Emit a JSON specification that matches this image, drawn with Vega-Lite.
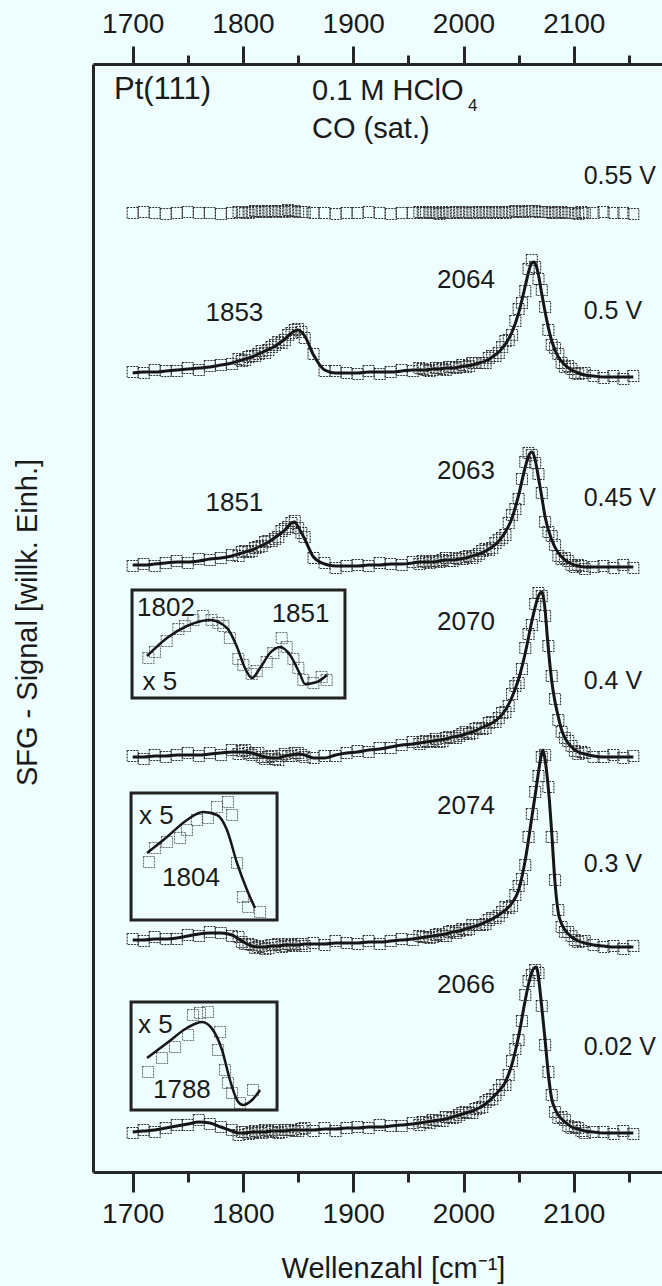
{
  "$schema": "https://vega.github.io/schema/vega-lite/v6.json",
  "width": 569,
  "height": 1108,
  "autosize": "none",
  "padding": {"left": 93, "top": 64, "right": 0, "bottom": 114},
  "background": "#eefdfd",
  "config": {"view": {"stroke": null}, "font": "Liberation Sans"},
  "datasets": {
    "box": [
      {"b": 1, "x": 1699.4, "x2": 1892.5, "y": 582, "y2": 474},
      {"b": 2, "x": 1698.5, "x2": 1830.9, "y": 379, "y2": 252},
      {"b": 3, "x": 1698.5, "x2": 1830.9, "y": 170, "y2": 62}
    ],
    "sp": [
      {"t":"0.55","x":1700,"m":959},{"t":"0.55","x":1710,"m":960},{"t":"0.55","x":1720,"m":959},{"t":"0.55","x":1730,"m":958},{"t":"0.55","x":1740,"m":959},{"t":"0.55","x":1750,"m":960},{"t":"0.55","x":1760,"m":959},{"t":"0.55","x":1770,"m":959},{"t":"0.55","x":1780,"m":958},{"t":"0.55","x":1790,"m":959},{"t":"0.55","x":1796,"m":960},{"t":"0.55","x":1802,"m":959},{"t":"0.55","x":1808,"m":960},{"t":"0.55","x":1814,"m":961},{"t":"0.55","x":1820,"m":960},{"t":"0.55","x":1826,"m":961},{"t":"0.55","x":1832,"m":961},{"t":"0.55","x":1838,"m":960},{"t":"0.55","x":1844,"m":961},{"t":"0.55","x":1850,"m":960},{"t":"0.55","x":1856,"m":960},{"t":"0.55","x":1864,"m":959},{"t":"0.55","x":1874,"m":959},{"t":"0.55","x":1884,"m":958},{"t":"0.55","x":1894,"m":959},{"t":"0.55","x":1904,"m":959},{"t":"0.55","x":1914,"m":960},{"t":"0.55","x":1924,"m":959},{"t":"0.55","x":1934,"m":958},{"t":"0.55","x":1944,"m":959},{"t":"0.55","x":1954,"m":959},{"t":"0.55","x":1960,"m":960},{"t":"0.55","x":1966,"m":959},{"t":"0.55","x":1972,"m":959},{"t":"0.55","x":1978,"m":958},{"t":"0.55","x":1984,"m":959},{"t":"0.55","x":1990,"m":959},{"t":"0.55","x":1996,"m":960},{"t":"0.55","x":2002,"m":959},{"t":"0.55","x":2008,"m":959},{"t":"0.55","x":2014,"m":960},{"t":"0.55","x":2020,"m":959},{"t":"0.55","x":2026,"m":960},{"t":"0.55","x":2032,"m":960},{"t":"0.55","x":2038,"m":959},{"t":"0.55","x":2044,"m":960},{"t":"0.55","x":2050,"m":961},{"t":"0.55","x":2056,"m":960},{"t":"0.55","x":2062,"m":961},{"t":"0.55","x":2068,"m":960},{"t":"0.55","x":2074,"m":960},{"t":"0.55","x":2080,"m":959},{"t":"0.55","x":2086,"m":960},{"t":"0.55","x":2092,"m":959},{"t":"0.55","x":2098,"m":959},{"t":"0.55","x":2104,"m":958},{"t":"0.55","x":2110,"m":959},{"t":"0.55","x":2118,"m":959},{"t":"0.55","x":2127,"m":960},{"t":"0.55","x":2136,"m":959},{"t":"0.55","x":2145,"m":959},{"t":"0.55","x":2154,"m":958},
      {"t":"0.55","x":1799,"m":960},{"t":"0.55","x":1805,"m":959},{"t":"0.55","x":1811,"m":961},{"t":"0.55","x":1817,"m":960},{"t":"0.55","x":1823,"m":961},{"t":"0.55","x":1829,"m":960},{"t":"0.55","x":1835,"m":961},{"t":"0.55","x":1841,"m":962},{"t":"0.55","x":1847,"m":961},{"t":"0.55","x":1853,"m":960},
      {"t":"0.55","x":1963,"m":959},{"t":"0.55","x":1969,"m":960},{"t":"0.55","x":1975,"m":959},{"t":"0.55","x":1981,"m":960},{"t":"0.55","x":1987,"m":959},{"t":"0.55","x":1993,"m":960},{"t":"0.55","x":1999,"m":959},{"t":"0.55","x":2005,"m":960},{"t":"0.55","x":2011,"m":959},{"t":"0.55","x":2017,"m":960},{"t":"0.55","x":2023,"m":960},{"t":"0.55","x":2029,"m":959},{"t":"0.55","x":2035,"m":960},{"t":"0.55","x":2041,"m":960},{"t":"0.55","x":2047,"m":961},{"t":"0.55","x":2053,"m":960},{"t":"0.55","x":2059,"m":961},{"t":"0.55","x":2065,"m":961},{"t":"0.55","x":2071,"m":960},{"t":"0.55","x":2077,"m":960},{"t":"0.55","x":2083,"m":959},{"t":"0.55","x":2089,"m":960},{"t":"0.55","x":2095,"m":959},{"t":"0.55","x":2101,"m":959},{"t":"0.55","x":2107,"m":960},

      {"t":"0.5","x":1700,"m":800,"f":799},{"t":"0.5","x":1710,"m":799,"f":800},{"t":"0.5","x":1720,"m":802,"f":800},{"t":"0.5","x":1730,"m":801,"f":801},{"t":"0.5","x":1740,"m":801,"f":802},{"t":"0.5","x":1750,"m":804,"f":803},{"t":"0.5","x":1760,"m":802,"f":804},{"t":"0.5","x":1770,"m":806,"f":805},{"t":"0.5","x":1780,"m":807,"f":807},{"t":"0.5","x":1790,"m":808,"f":809},{"t":"0.5","x":1796,"m":813,"f":811},{"t":"0.5","x":1802,"m":812,"f":813},{"t":"0.5","x":1808,"m":816,"f":815},{"t":"0.5","x":1814,"m":818,"f":818},{"t":"0.5","x":1820,"m":819,"f":821},{"t":"0.5","x":1826,"m":825,"f":824},{"t":"0.5","x":1832,"m":830,"f":828},{"t":"0.5","x":1838,"m":832,"f":833},{"t":"0.5","x":1844,"m":839,"f":839},{"t":"0.5","x":1850,"m":843,"f":842},{"t":"0.5","x":1856,"m":834,"f":836},{"t":"0.5","x":1864,"m":818,"f":817},{"t":"0.5","x":1874,"m":801,"f":802},{"t":"0.5","x":1884,"m":801,"f":799},{"t":"0.5","x":1894,"m":799,"f":799},{"t":"0.5","x":1904,"m":798,"f":799},{"t":"0.5","x":1914,"m":801,"f":800},{"t":"0.5","x":1924,"m":798,"f":800},{"t":"0.5","x":1934,"m":800,"f":800},{"t":"0.5","x":1944,"m":802,"f":801},{"t":"0.5","x":1954,"m":801,"f":802},{"t":"0.5","x":1960,"m":804,"f":802},{"t":"0.5","x":1966,"m":802,"f":802},{"t":"0.5","x":1972,"m":802,"f":803},{"t":"0.5","x":1978,"m":804,"f":803},{"t":"0.5","x":1984,"m":802,"f":804},{"t":"0.5","x":1990,"m":805,"f":804},{"t":"0.5","x":1996,"m":805,"f":805},{"t":"0.5","x":2002,"m":805,"f":806},{"t":"0.5","x":2008,"m":809,"f":807},{"t":"0.5","x":2014,"m":809,"f":809},{"t":"0.5","x":2020,"m":809,"f":811},{"t":"0.5","x":2026,"m":816,"f":815},{"t":"0.5","x":2032,"m":819,"f":820},{"t":"0.5","x":2038,"m":831,"f":828},{"t":"0.5","x":2044,"m":837,"f":840},{"t":"0.5","x":2050,"m":863,"f":859},{"t":"0.5","x":2056,"m":881,"f":886},{"t":"0.5","x":2062,"m":912,"f":909},{"t":"0.5","x":2068,"m":893,"f":897},{"t":"0.5","x":2074,"m":865,"f":860},{"t":"0.5","x":2080,"m":827,"f":831},{"t":"0.5","x":2086,"m":818,"f":815},{"t":"0.5","x":2092,"m":805,"f":807},{"t":"0.5","x":2098,"m":803,"f":802},{"t":"0.5","x":2104,"m":798,"f":799},{"t":"0.5","x":2110,"m":799,"f":797},{"t":"0.5","x":2118,"m":796,"f":796},{"t":"0.5","x":2127,"m":794,"f":795},{"t":"0.5","x":2136,"m":796,"f":795},{"t":"0.5","x":2145,"m":793,"f":795},{"t":"0.5","x":2154,"m":796,"f":795},
      {"t":"0.5","x":2059,"f":900},{"t":"0.5","x":2064,"f":910},{"t":"0.5","x":2066,"f":906},{"t":"0.5","x":2071,"f":878},
      {"t":"0.5","x":1799,"m":811},{"t":"0.5","x":1805,"m":815},{"t":"0.5","x":1811,"m":816},{"t":"0.5","x":1817,"m":821},{"t":"0.5","x":1823,"m":822},{"t":"0.5","x":1829,"m":827},{"t":"0.5","x":1835,"m":829},{"t":"0.5","x":1841,"m":837},{"t":"0.5","x":1847,"m":842},{"t":"0.5","x":1853,"m":840},
      {"t":"0.5","x":1963,"m":803},{"t":"0.5","x":1969,"m":801},{"t":"0.5","x":1975,"m":804},{"t":"0.5","x":1981,"m":803},{"t":"0.5","x":1987,"m":805},{"t":"0.5","x":1993,"m":804},{"t":"0.5","x":1999,"m":807},{"t":"0.5","x":2005,"m":806},{"t":"0.5","x":2011,"m":809},{"t":"0.5","x":2017,"m":809},{"t":"0.5","x":2023,"m":814},{"t":"0.5","x":2029,"m":816},{"t":"0.5","x":2035,"m":825},{"t":"0.5","x":2041,"m":832},{"t":"0.5","x":2047,"m":851},{"t":"0.5","x":2053,"m":869},{"t":"0.5","x":2059,"m":903},{"t":"0.5","x":2065,"m":905},{"t":"0.5","x":2071,"m":882},{"t":"0.5","x":2077,"m":842},{"t":"0.5","x":2083,"m":824},{"t":"0.5","x":2089,"m":809},{"t":"0.5","x":2095,"m":806},{"t":"0.5","x":2101,"m":799},{"t":"0.5","x":2107,"m":799},

      {"t":"0.45","x":1700,"m":606,"f":607},{"t":"0.45","x":1710,"m":608,"f":607},{"t":"0.45","x":1720,"m":606,"f":608},{"t":"0.45","x":1730,"m":609,"f":609},{"t":"0.45","x":1740,"m":611,"f":610},{"t":"0.45","x":1750,"m":609,"f":610},{"t":"0.45","x":1760,"m":613,"f":611},{"t":"0.45","x":1770,"m":612,"f":613},{"t":"0.45","x":1780,"m":614,"f":614},{"t":"0.45","x":1790,"m":617,"f":616},{"t":"0.45","x":1796,"m":616,"f":618},{"t":"0.45","x":1802,"m":621,"f":620},{"t":"0.45","x":1808,"m":621,"f":622},{"t":"0.45","x":1814,"m":625,"f":625},{"t":"0.45","x":1820,"m":630,"f":628},{"t":"0.45","x":1826,"m":631,"f":632},{"t":"0.45","x":1832,"m":635,"f":637},{"t":"0.45","x":1838,"m":643,"f":642},{"t":"0.45","x":1844,"m":649,"f":649},{"t":"0.45","x":1850,"m":644,"f":645},{"t":"0.45","x":1856,"m":635,"f":633},{"t":"0.45","x":1864,"m":614,"f":615},{"t":"0.45","x":1874,"m":609,"f":608},{"t":"0.45","x":1884,"m":604,"f":606},{"t":"0.45","x":1894,"m":606,"f":606},{"t":"0.45","x":1904,"m":607,"f":606},{"t":"0.45","x":1914,"m":606,"f":607},{"t":"0.45","x":1924,"m":609,"f":607},{"t":"0.45","x":1934,"m":608,"f":608},{"t":"0.45","x":1944,"m":607,"f":608},{"t":"0.45","x":1954,"m":610,"f":609},{"t":"0.45","x":1960,"m":608,"f":610},{"t":"0.45","x":1966,"m":610,"f":610},{"t":"0.45","x":1972,"m":611,"f":610},{"t":"0.45","x":1978,"m":610,"f":611},{"t":"0.45","x":1984,"m":614,"f":612},{"t":"0.45","x":1990,"m":611,"f":612},{"t":"0.45","x":1996,"m":613,"f":613},{"t":"0.45","x":2002,"m":615,"f":614},{"t":"0.45","x":2008,"m":614,"f":616},{"t":"0.45","x":2014,"m":618,"f":618},{"t":"0.45","x":2020,"m":623,"f":621},{"t":"0.45","x":2026,"m":624,"f":625},{"t":"0.45","x":2032,"m":632,"f":631},{"t":"0.45","x":2038,"m":637,"f":640},{"t":"0.45","x":2044,"m":657,"f":654},{"t":"0.45","x":2050,"m":673,"f":677},{"t":"0.45","x":2056,"m":710,"f":705},{"t":"0.45","x":2062,"m":717,"f":720},{"t":"0.45","x":2068,"m":698,"f":694},{"t":"0.45","x":2074,"m":650,"f":655},{"t":"0.45","x":2080,"m":636,"f":632},{"t":"0.45","x":2086,"m":616,"f":619},{"t":"0.45","x":2092,"m":614,"f":612},{"t":"0.45","x":2098,"m":607,"f":608},{"t":"0.45","x":2104,"m":607,"f":606},{"t":"0.45","x":2110,"m":603,"f":605},{"t":"0.45","x":2118,"m":605,"f":605},{"t":"0.45","x":2127,"m":606,"f":605},{"t":"0.45","x":2136,"m":604,"f":605},{"t":"0.45","x":2145,"m":607,"f":605},{"t":"0.45","x":2154,"m":604,"f":605},
      {"t":"0.45","x":1847,"f":650},{"t":"0.45","x":2059,"f":716},{"t":"0.45","x":2065,"f":712},{"t":"0.45","x":2071,"f":675},
      {"t":"0.45","x":1799,"m":620},{"t":"0.45","x":1805,"m":620},{"t":"0.45","x":1811,"m":624},{"t":"0.45","x":1817,"m":626},{"t":"0.45","x":1823,"m":631},{"t":"0.45","x":1829,"m":633},{"t":"0.45","x":1835,"m":641},{"t":"0.45","x":1841,"m":645},{"t":"0.45","x":1847,"m":651},{"t":"0.45","x":1853,"m":639},
      {"t":"0.45","x":1963,"m":611},{"t":"0.45","x":1969,"m":609},{"t":"0.45","x":1975,"m":611},{"t":"0.45","x":1981,"m":612},{"t":"0.45","x":1987,"m":611},{"t":"0.45","x":1993,"m":614},{"t":"0.45","x":1999,"m":613},{"t":"0.45","x":2005,"m":616},{"t":"0.45","x":2011,"m":616},{"t":"0.45","x":2017,"m":621},{"t":"0.45","x":2023,"m":622},{"t":"0.45","x":2029,"m":629},{"t":"0.45","x":2035,"m":634},{"t":"0.45","x":2041,"m":649},{"t":"0.45","x":2047,"m":663},{"t":"0.45","x":2053,"m":693},{"t":"0.45","x":2059,"m":719},{"t":"0.45","x":2065,"m":709},{"t":"0.45","x":2071,"m":679},{"t":"0.45","x":2077,"m":640},{"t":"0.45","x":2083,"m":627},{"t":"0.45","x":2089,"m":613},{"t":"0.45","x":2095,"m":611},{"t":"0.45","x":2101,"m":605},{"t":"0.45","x":2107,"m":606},

      {"t":"0.4","x":1700,"m":416,"f":415},{"t":"0.4","x":1710,"m":413,"f":415},{"t":"0.4","x":1720,"m":417,"f":416},{"t":"0.4","x":1730,"m":415,"f":416},{"t":"0.4","x":1740,"m":417,"f":417},{"t":"0.4","x":1750,"m":419,"f":417},{"t":"0.4","x":1760,"m":416,"f":417},{"t":"0.4","x":1770,"m":419,"f":418},{"t":"0.4","x":1780,"m":417,"f":419},{"t":"0.4","x":1790,"m":422,"f":420},{"t":"0.4","x":1796,"m":418,"f":420},{"t":"0.4","x":1802,"m":422,"f":420},{"t":"0.4","x":1808,"m":417,"f":419},{"t":"0.4","x":1814,"m":419,"f":417},{"t":"0.4","x":1820,"m":413,"f":415},{"t":"0.4","x":1826,"m":416,"f":414},{"t":"0.4","x":1832,"m":412,"f":414},{"t":"0.4","x":1838,"m":418,"f":416},{"t":"0.4","x":1844,"m":416,"f":417},{"t":"0.4","x":1850,"m":419,"f":418},{"t":"0.4","x":1856,"m":415,"f":417},{"t":"0.4","x":1864,"m":414,"f":414},{"t":"0.4","x":1874,"m":416,"f":414},{"t":"0.4","x":1884,"m":416,"f":417},{"t":"0.4","x":1894,"m":419,"f":419},{"t":"0.4","x":1904,"m":421,"f":420},{"t":"0.4","x":1914,"m":420,"f":422},{"t":"0.4","x":1924,"m":424,"f":423},{"t":"0.4","x":1934,"m":424,"f":425},{"t":"0.4","x":1944,"m":427,"f":427},{"t":"0.4","x":1954,"m":430,"f":428},{"t":"0.4","x":1960,"m":428,"f":429},{"t":"0.4","x":1966,"m":431,"f":430},{"t":"0.4","x":1972,"m":431,"f":431},{"t":"0.4","x":1978,"m":430,"f":432},{"t":"0.4","x":1984,"m":434,"f":433},{"t":"0.4","x":1990,"m":434,"f":435},{"t":"0.4","x":1996,"m":436,"f":436},{"t":"0.4","x":2002,"m":440,"f":438},{"t":"0.4","x":2008,"m":439,"f":440},{"t":"0.4","x":2014,"m":444,"f":443},{"t":"0.4","x":2020,"m":444,"f":446},{"t":"0.4","x":2026,"m":450,"f":449},{"t":"0.4","x":2032,"m":454,"f":454},{"t":"0.4","x":2038,"m":460,"f":462},{"t":"0.4","x":2044,"m":478,"f":475},{"t":"0.4","x":2050,"m":489,"f":493},{"t":"0.4","x":2056,"m":524,"f":519},{"t":"0.4","x":2062,"m":547,"f":551},{"t":"0.4","x":2068,"m":579,"f":576},{"t":"0.4","x":2074,"m":556,"f":562},{"t":"0.4","x":2080,"m":496,"f":491},{"t":"0.4","x":2086,"m":452,"f":455},{"t":"0.4","x":2092,"m":434,"f":434},{"t":"0.4","x":2098,"m":426,"f":425},{"t":"0.4","x":2104,"m":418,"f":420},{"t":"0.4","x":2110,"m":419,"f":418},{"t":"0.4","x":2118,"m":415,"f":416},{"t":"0.4","x":2127,"m":415,"f":415},{"t":"0.4","x":2136,"m":417,"f":415},{"t":"0.4","x":2145,"m":414,"f":415},{"t":"0.4","x":2154,"m":416,"f":415},
      {"t":"0.4","x":2065,"f":565},{"t":"0.4","x":2071,"f":580},{"t":"0.4","x":2072,"f":577},{"t":"0.4","x":2076,"f":535},{"t":"0.4","x":2078,"f":511},{"t":"0.4","x":2083,"f":470},{"t":"0.4","x":2089,"f":442},
      {"t":"0.4","x":1799,"m":421},{"t":"0.4","x":1805,"m":419},{"t":"0.4","x":1811,"m":419},{"t":"0.4","x":1817,"m":415},{"t":"0.4","x":1823,"m":415},{"t":"0.4","x":1829,"m":413},{"t":"0.4","x":1835,"m":416},{"t":"0.4","x":1841,"m":416},{"t":"0.4","x":1847,"m":419},{"t":"0.4","x":1853,"m":417},
      {"t":"0.4","x":1963,"m":430},{"t":"0.4","x":1969,"m":430},{"t":"0.4","x":1975,"m":433},{"t":"0.4","x":1981,"m":431},{"t":"0.4","x":1987,"m":435},{"t":"0.4","x":1993,"m":434},{"t":"0.4","x":1999,"m":438},{"t":"0.4","x":2005,"m":438},{"t":"0.4","x":2011,"m":443},{"t":"0.4","x":2017,"m":443},{"t":"0.4","x":2023,"m":449},{"t":"0.4","x":2029,"m":450},{"t":"0.4","x":2035,"m":459},{"t":"0.4","x":2041,"m":466},{"t":"0.4","x":2047,"m":486},{"t":"0.4","x":2053,"m":503},{"t":"0.4","x":2059,"m":538},{"t":"0.4","x":2065,"m":568},{"t":"0.4","x":2071,"m":576},{"t":"0.4","x":2077,"m":526},{"t":"0.4","x":2083,"m":473},{"t":"0.4","x":2089,"m":440},{"t":"0.4","x":2095,"m":431},{"t":"0.4","x":2101,"m":421},{"t":"0.4","x":2107,"m":420},

      {"t":"0.3","x":1700,"m":233,"f":232},{"t":"0.3","x":1710,"m":231,"f":232},{"t":"0.3","x":1720,"m":235,"f":233},{"t":"0.3","x":1730,"m":233,"f":233},{"t":"0.3","x":1740,"m":233,"f":234},{"t":"0.3","x":1750,"m":237,"f":236},{"t":"0.3","x":1760,"m":236,"f":238},{"t":"0.3","x":1770,"m":240,"f":239},{"t":"0.3","x":1780,"m":239,"f":239},{"t":"0.3","x":1790,"m":236,"f":237},{"t":"0.3","x":1796,"m":235,"f":233},{"t":"0.3","x":1802,"m":228,"f":229},{"t":"0.3","x":1808,"m":227,"f":226},{"t":"0.3","x":1814,"m":225,"f":225},{"t":"0.3","x":1820,"m":223,"f":225},{"t":"0.3","x":1826,"m":227,"f":226},{"t":"0.3","x":1832,"m":228,"f":226},{"t":"0.3","x":1838,"m":226,"f":227},{"t":"0.3","x":1844,"m":227,"f":227},{"t":"0.3","x":1850,"m":228,"f":227},{"t":"0.3","x":1856,"m":226,"f":228},{"t":"0.3","x":1864,"m":229,"f":228},{"t":"0.3","x":1874,"m":227,"f":228},{"t":"0.3","x":1884,"m":231,"f":229},{"t":"0.3","x":1894,"m":229,"f":229},{"t":"0.3","x":1904,"m":228,"f":229},{"t":"0.3","x":1914,"m":231,"f":230},{"t":"0.3","x":1924,"m":228,"f":230},{"t":"0.3","x":1934,"m":231,"f":231},{"t":"0.3","x":1944,"m":233,"f":232},{"t":"0.3","x":1954,"m":232,"f":233},{"t":"0.3","x":1960,"m":236,"f":234},{"t":"0.3","x":1966,"m":235,"f":235},{"t":"0.3","x":1972,"m":235,"f":236},{"t":"0.3","x":1978,"m":238,"f":237},{"t":"0.3","x":1984,"m":236,"f":238},{"t":"0.3","x":1990,"m":241,"f":240},{"t":"0.3","x":1996,"m":241,"f":241},{"t":"0.3","x":2002,"m":242,"f":243},{"t":"0.3","x":2008,"m":247,"f":245},{"t":"0.3","x":2014,"m":247,"f":247},{"t":"0.3","x":2020,"m":248,"f":250},{"t":"0.3","x":2026,"m":254,"f":253},{"t":"0.3","x":2032,"m":256,"f":257},{"t":"0.3","x":2038,"m":265,"f":262},{"t":"0.3","x":2044,"m":266,"f":269},{"t":"0.3","x":2050,"m":286,"f":282},{"t":"0.3","x":2056,"m":307,"f":312},{"t":"0.3","x":2062,"m":358,"f":355},{"t":"0.3","x":2068,"m":396,"f":400},{"t":"0.3","x":2074,"m":417,"f":412},{"t":"0.3","x":2080,"m":335,"f":339},{"t":"0.3","x":2086,"m":262,"f":259},{"t":"0.3","x":2092,"m":240,"f":242},{"t":"0.3","x":2098,"m":236,"f":235},{"t":"0.3","x":2104,"m":230,"f":231},{"t":"0.3","x":2110,"m":231,"f":229},{"t":"0.3","x":2118,"m":227,"f":227},{"t":"0.3","x":2127,"m":225,"f":226},{"t":"0.3","x":2136,"m":226,"f":225},{"t":"0.3","x":2145,"m":223,"f":225},{"t":"0.3","x":2154,"m":226,"f":225},
      {"t":"0.3","x":2065,"f":377},{"t":"0.3","x":2070,"f":414},{"t":"0.3","x":2072,"f":422},{"t":"0.3","x":2076,"f":394},{"t":"0.3","x":2078,"f":370},{"t":"0.3","x":2083,"f":289},{"t":"0.3","x":2089,"f":248},
      {"t":"0.3","x":1799,"m":230},{"t":"0.3","x":1805,"m":228},{"t":"0.3","x":1811,"m":224},{"t":"0.3","x":1817,"m":226},{"t":"0.3","x":1823,"m":224},{"t":"0.3","x":1829,"m":227},{"t":"0.3","x":1835,"m":225},{"t":"0.3","x":1841,"m":228},{"t":"0.3","x":1847,"m":226},{"t":"0.3","x":1853,"m":228},
      {"t":"0.3","x":1963,"m":235},{"t":"0.3","x":1969,"m":234},{"t":"0.3","x":1975,"m":237},{"t":"0.3","x":1981,"m":236},{"t":"0.3","x":1987,"m":240},{"t":"0.3","x":1993,"m":239},{"t":"0.3","x":1999,"m":243},{"t":"0.3","x":2005,"m":243},{"t":"0.3","x":2011,"m":247},{"t":"0.3","x":2017,"m":247},{"t":"0.3","x":2023,"m":252},{"t":"0.3","x":2029,"m":254},{"t":"0.3","x":2035,"m":260},{"t":"0.3","x":2041,"m":264},{"t":"0.3","x":2047,"m":277},{"t":"0.3","x":2053,"m":293},{"t":"0.3","x":2059,"m":335},{"t":"0.3","x":2065,"m":380},{"t":"0.3","x":2071,"m":415},{"t":"0.3","x":2077,"m":385},{"t":"0.3","x":2083,"m":292},{"t":"0.3","x":2089,"m":245},{"t":"0.3","x":2095,"m":240},{"t":"0.3","x":2101,"m":232},{"t":"0.3","x":2107,"m":231},

      {"t":"0.02","x":1700,"m":39,"f":40},{"t":"0.02","x":1710,"m":42,"f":41},{"t":"0.02","x":1720,"m":40,"f":42},{"t":"0.02","x":1730,"m":44,"f":44},{"t":"0.02","x":1740,"m":47,"f":46},{"t":"0.02","x":1750,"m":47,"f":48},{"t":"0.02","x":1760,"m":52,"f":50},{"t":"0.02","x":1770,"m":48,"f":49},{"t":"0.02","x":1780,"m":45,"f":45},{"t":"0.02","x":1790,"m":42,"f":41},{"t":"0.02","x":1796,"m":37,"f":39},{"t":"0.02","x":1802,"m":40,"f":39},{"t":"0.02","x":1808,"m":39,"f":40},{"t":"0.02","x":1814,"m":40,"f":40},{"t":"0.02","x":1820,"m":42,"f":40},{"t":"0.02","x":1826,"m":40,"f":41},{"t":"0.02","x":1832,"m":39,"f":41},{"t":"0.02","x":1838,"m":42,"f":41},{"t":"0.02","x":1844,"m":42,"f":42},{"t":"0.02","x":1850,"m":41,"f":42},{"t":"0.02","x":1856,"m":44,"f":42},{"t":"0.02","x":1864,"m":41,"f":42},{"t":"0.02","x":1874,"m":44,"f":43},{"t":"0.02","x":1884,"m":41,"f":43},{"t":"0.02","x":1894,"m":44,"f":44},{"t":"0.02","x":1904,"m":45,"f":44},{"t":"0.02","x":1914,"m":44,"f":45},{"t":"0.02","x":1924,"m":47,"f":45},{"t":"0.02","x":1934,"m":46,"f":46},{"t":"0.02","x":1944,"m":46,"f":47},{"t":"0.02","x":1954,"m":49,"f":48},{"t":"0.02","x":1960,"m":47,"f":49},{"t":"0.02","x":1966,"m":50,"f":50},{"t":"0.02","x":1972,"m":52,"f":51},{"t":"0.02","x":1978,"m":51,"f":52},{"t":"0.02","x":1984,"m":55,"f":53},{"t":"0.02","x":1990,"m":54,"f":55},{"t":"0.02","x":1996,"m":57,"f":57},{"t":"0.02","x":2002,"m":60,"f":59},{"t":"0.02","x":2008,"m":59,"f":61},{"t":"0.02","x":2014,"m":64,"f":64},{"t":"0.02","x":2020,"m":70,"f":68},{"t":"0.02","x":2026,"m":73,"f":74},{"t":"0.02","x":2032,"m":82,"f":81},{"t":"0.02","x":2038,"m":87,"f":90},{"t":"0.02","x":2044,"m":111,"f":108},{"t":"0.02","x":2050,"m":132,"f":136},{"t":"0.02","x":2056,"m":177,"f":172},{"t":"0.02","x":2062,"m":197,"f":200},{"t":"0.02","x":2068,"m":199,"f":195},{"t":"0.02","x":2074,"m":127,"f":132},{"t":"0.02","x":2080,"m":77,"f":73},{"t":"0.02","x":2086,"m":54,"f":57},{"t":"0.02","x":2092,"m":52,"f":50},{"t":"0.02","x":2098,"m":44,"f":45},{"t":"0.02","x":2104,"m":44,"f":43},{"t":"0.02","x":2110,"m":39,"f":41},{"t":"0.02","x":2118,"m":40,"f":40},{"t":"0.02","x":2127,"m":40,"f":39},{"t":"0.02","x":2136,"m":38,"f":39},{"t":"0.02","x":2145,"m":41,"f":39},{"t":"0.02","x":2154,"m":38,"f":39},
      {"t":"0.02","x":2059,"f":188},{"t":"0.02","x":2064,"f":204},{"t":"0.02","x":2066,"f":205},{"t":"0.02","x":2070,"f":175},{"t":"0.02","x":2077,"f":97},{"t":"0.02","x":2083,"f":63},
      {"t":"0.02","x":1799,"m":40},{"t":"0.02","x":1805,"m":38},{"t":"0.02","x":1811,"m":41},{"t":"0.02","x":1817,"m":39},{"t":"0.02","x":1823,"m":41},{"t":"0.02","x":1829,"m":42},{"t":"0.02","x":1835,"m":40},{"t":"0.02","x":1841,"m":42},{"t":"0.02","x":1847,"m":41},{"t":"0.02","x":1853,"m":43},
      {"t":"0.02","x":1963,"m":50},{"t":"0.02","x":1969,"m":49},{"t":"0.02","x":1975,"m":52},{"t":"0.02","x":1981,"m":51},{"t":"0.02","x":1987,"m":55},{"t":"0.02","x":1993,"m":55},{"t":"0.02","x":1999,"m":59},{"t":"0.02","x":2005,"m":59},{"t":"0.02","x":2011,"m":63},{"t":"0.02","x":2017,"m":65},{"t":"0.02","x":2023,"m":72},{"t":"0.02","x":2029,"m":77},{"t":"0.02","x":2035,"m":87},{"t":"0.02","x":2041,"m":97},{"t":"0.02","x":2047,"m":123},{"t":"0.02","x":2053,"m":151},{"t":"0.02","x":2059,"m":191},{"t":"0.02","x":2065,"m":202},{"t":"0.02","x":2071,"m":166},{"t":"0.02","x":2077,"m":100},{"t":"0.02","x":2083,"m":60},{"t":"0.02","x":2089,"m":55},{"t":"0.02","x":2095,"m":46},{"t":"0.02","x":2101,"m":45},{"t":"0.02","x":2107,"m":41}
    ],
    "ins": [
      {"b":1,"x":1713.0,"f":516},{"b":1,"x":1731.1,"f":534},{"b":1,"x":1749.2,"f":546},{"b":1,"x":1770.1,"f":552},{"b":1,"x":1785.5,"f":544},{"b":1,"x":1794.6,"f":525},{"b":1,"x":1801.8,"f":504},{"b":1,"x":1808.2,"f":494},{"b":1,"x":1815.5,"f":504},{"b":1,"x":1824.5,"f":519},{"b":1,"x":1833.6,"f":525},{"b":1,"x":1842.7,"f":517},{"b":1,"x":1851.7,"f":498},{"b":1,"x":1856.3,"f":488},{"b":1,"x":1867.1,"f":490},{"b":1,"x":1876.2,"f":497},
      {"b":1,"x":1714.2,"m":514},{"b":1,"x":1720.2,"m":520},{"b":1,"x":1730.8,"m":531},{"b":1,"x":1741.4,"m":543},{"b":1,"x":1747.4,"m":546},{"b":1,"x":1755.0,"m":552},{"b":1,"x":1764.0,"m":556},{"b":1,"x":1771.6,"m":552},{"b":1,"x":1777.6,"m":549},{"b":1,"x":1782.2,"m":546},{"b":1,"x":1788.2,"m":534},{"b":1,"x":1795.8,"m":513},{"b":1,"x":1800.3,"m":507},{"b":1,"x":1807.9,"m":498},{"b":1,"x":1812.5,"m":501},{"b":1,"x":1821.5,"m":510},{"b":1,"x":1827.5,"m":519},{"b":1,"x":1835.1,"m":534},{"b":1,"x":1839.7,"m":525},{"b":1,"x":1845.7,"m":513},{"b":1,"x":1850.2,"m":504},{"b":1,"x":1854.7,"m":492},{"b":1,"x":1863.8,"m":489},{"b":1,"x":1871.4,"m":495},{"b":1,"x":1875.9,"m":492},
      {"b":2,"x":1713.0,"f":319},{"b":2,"x":1731.1,"f":335},{"b":2,"x":1749.2,"f":352},{"b":2,"x":1763.8,"f":360},{"b":2,"x":1776.5,"f":357},{"b":2,"x":1785.5,"f":342},{"b":2,"x":1794.6,"f":309},{"b":2,"x":1803.7,"f":282},{"b":2,"x":1810.9,"f":264},
      {"b":2,"x":1714.8,"m":310},{"b":2,"x":1720.2,"m":324},{"b":2,"x":1731.1,"m":330},{"b":2,"x":1742.9,"m":334},{"b":2,"x":1749.2,"m":342},{"b":2,"x":1758.3,"m":352},{"b":2,"x":1768.3,"m":354},{"b":2,"x":1776.5,"m":365},{"b":2,"x":1786.4,"m":370},{"b":2,"x":1790.1,"m":357},{"b":2,"x":1794.6,"m":309},{"b":2,"x":1800.0,"m":275},{"b":2,"x":1804.6,"m":265},{"b":2,"x":1815.5,"m":260},
      {"b":3,"x":1713.0,"f":114},{"b":3,"x":1731.1,"f":129},{"b":3,"x":1749.2,"f":144},{"b":3,"x":1762.9,"f":150},{"b":3,"x":1772.8,"f":142},{"b":3,"x":1781.0,"f":122},{"b":3,"x":1788.2,"f":92},{"b":3,"x":1794.6,"f":72},{"b":3,"x":1800.0,"f":67},{"b":3,"x":1808.2,"f":72},{"b":3,"x":1815.5,"f":82},
      {"b":3,"x":1713.9,"m":100},{"b":3,"x":1726.6,"m":114},{"b":3,"x":1738.4,"m":125},{"b":3,"x":1750.2,"m":137},{"b":3,"x":1754.7,"m":157},{"b":3,"x":1761.0,"m":159},{"b":3,"x":1768.3,"m":160},{"b":3,"x":1779.2,"m":140},{"b":3,"x":1777.4,"m":122},{"b":3,"x":1783.7,"m":102},{"b":3,"x":1786.4,"m":89},{"b":3,"x":1790.1,"m":79},{"b":3,"x":1797.3,"m":69},{"b":3,"x":1809.1,"m":82}
    ],
    "lab": [
      {"k":"big","x":1683,"y":1082,"s":"Pt(111)"},
      {"k":"mid","x":1862.6,"y":1081,"s":"0.1 M HClO"},
      {"k":"mid","x":1862.6,"y":1043,"s":"CO (sat.)"},
      {"k":"sub","x":2004,"y":1066,"s":"4"},
      {"k":"volt","x":2109,"y":996,"s":"0.55 V"},
      {"k":"ann","x":1976,"y":892,"s":"2064"},
      {"k":"ann","x":1766,"y":859,"s":"1853"},
      {"k":"volt","x":2109,"y":861,"s":"0.5 V"},
      {"k":"ann","x":1976,"y":701,"s":"2063"},
      {"k":"ann","x":1766,"y":669,"s":"1851"},
      {"k":"volt","x":2109,"y":674,"s":"0.45 V"},
      {"k":"ann","x":1704,"y":564,"s":"1802"},
      {"k":"ann","x":1826,"y":558,"s":"1851"},
      {"k":"ann","x":1709,"y":490,"s":"x 5"},
      {"k":"ann","x":1976,"y":550,"s":"2070"},
      {"k":"volt","x":2109,"y":491,"s":"0.4 V"},
      {"k":"ann","x":1705.7,"y":356,"s":"x 5"},
      {"k":"ann","x":1726.6,"y":294,"s":"1804"},
      {"k":"ann","x":1976,"y":366,"s":"2074"},
      {"k":"volt","x":2109,"y":308,"s":"0.3 V"},
      {"k":"ann","x":1704.8,"y":147,"s":"x 5"},
      {"k":"ann","x":1718.4,"y":82,"s":"1788"},
      {"k":"ann","x":1976,"y":187,"s":"2066"},
      {"k":"volt","x":2109,"y":125,"s":"0.02 V"}
    ]
  },
  "resolve": {"axis": {"x": "independent", "y": "independent"}},
  "layer": [
    {
      "data": {"name": "box"},
      "mark": {"type": "rect", "fill": null, "filled": false, "stroke": "#222222", "strokeWidth": 3},
      "encoding": {
        "x": {"field": "x", "type": "quantitative", "scale": {"domain": [1664, 2180], "nice": false, "zero": false},
          "axis": {"orient": "bottom", "values": [1700, 1800, 1900, 2000, 2100], "format": "d", "grid": false,
            "tickSize": 20, "tickWidth": 3, "tickColor": "#262626", "domainColor": "#262626", "domainWidth": 3,
            "labelFontSize": 28, "labelColor": "#1a1a1a", "labelPadding": 8, "labelFont": "Liberation Sans",
            "title": "Wellenzahl [cm⁻¹]", "titleFont": "Liberation Sans", "titleFontSize": 29, "titleFontWeight": "normal",
            "titleColor": "#1a1a1a", "titleX": 300, "titleY": 96, "titleBaseline": "middle", "titleAlign": "center"}},
        "x2": {"field": "x2"},
        "y": {"field": "y", "type": "quantitative", "scale": {"domain": [0, 1108], "nice": false, "zero": false},
          "axis": {"orient": "left", "ticks": false, "labels": false, "grid": false, "domain": true, "domainWidth": 3, "domainColor": "#262626",
            "title": "SFG - Signal [willk. Einh.]", "titleFont": "Liberation Sans", "titleFontSize": 29, "titleFontWeight": "normal",
            "titleColor": "#1a1a1a", "titleX": -66, "titleY": 558, "titleAngle": -90, "titleBaseline": "middle", "titleAlign": "center"}},
        "y2": {"field": "y2"}
      }
    },
    {
      "data": {"name": "sp"},
      "transform": [{"filter": "isValid(datum.m)"}],
      "mark": {"type": "point", "shape": "square", "filled": false, "size": 121, "stroke": "#333333", "strokeWidth": 1.1, "strokeDash": [2, 1], "opacity": 1},
      "encoding": {
        "x": {"field": "x", "type": "quantitative", "scale": {"domain": [1664, 2180], "nice": false, "zero": false},
          "axis": {"orient": "top", "values": [1700, 1800, 1900, 2000, 2100], "format": "d", "grid": false,
            "tickSize": 18, "tickWidth": 3, "tickColor": "#262626", "domainColor": "#262626", "domainWidth": 3,
            "labelFontSize": 28, "labelColor": "#1a1a1a", "labelPadding": 8, "labelFont": "Liberation Sans", "title": null}},
        "y": {"field": "m", "type": "quantitative", "scale": {"domain": [0, 1108], "nice": false, "zero": false}, "axis": null},
        "detail": {"field": "t"}
      }
    },
    {
      "data": {"name": "sp"},
      "transform": [{"filter": "isValid(datum.f)"}],
      "mark": {"type": "line", "interpolate": "monotone", "stroke": "#161616", "strokeWidth": 3},
      "encoding": {
        "x": {"field": "x", "type": "quantitative", "scale": {"domain": [1664, 2180], "nice": false, "zero": false},
          "axis": {"orient": "bottom", "values": [1750, 1850, 1950, 2050, 2150], "grid": false, "labels": false, "domain": false,
            "tickSize": 10, "tickWidth": 3, "tickColor": "#262626", "title": null}},
        "y": {"field": "f", "type": "quantitative", "scale": {"domain": [0, 1108], "nice": false, "zero": false}, "axis": null},
        "detail": {"field": "t"}
      }
    },
    {
      "data": {"name": "ins"},
      "transform": [{"filter": "isValid(datum.m)"}],
      "mark": {"type": "point", "shape": "square", "filled": false, "size": 121, "stroke": "#333333", "strokeWidth": 1.1, "strokeDash": [2, 1]},
      "encoding": {
        "x": {"field": "x", "type": "quantitative", "scale": {"domain": [1664, 2180], "nice": false, "zero": false},
          "axis": {"orient": "top", "values": [1750, 1850, 1950, 2050, 2150], "grid": false, "labels": false, "domain": false,
            "tickSize": 9, "tickWidth": 3, "tickColor": "#262626", "title": null}},
        "y": {"field": "m", "type": "quantitative", "scale": {"domain": [0, 1108], "nice": false, "zero": false}, "axis": null},
        "detail": {"field": "b"}
      }
    },
    {
      "data": {"name": "ins"},
      "transform": [{"filter": "isValid(datum.f)"}],
      "mark": {"type": "line", "interpolate": "monotone", "stroke": "#161616", "strokeWidth": 2.5},
      "encoding": {
        "x": {"field": "x", "type": "quantitative", "scale": {"domain": [1664, 2180], "nice": false, "zero": false}, "axis": null},
        "y": {"field": "f", "type": "quantitative", "scale": {"domain": [0, 1108], "nice": false, "zero": false}, "axis": null},
        "detail": {"field": "b"}
      }
    },
    {
      "data": {"name": "lab"},
      "transform": [{"filter": "datum.k === 'ann'"}],
      "mark": {"type": "text", "align": "left", "baseline": "middle", "fontSize": 26, "color": "#1a1a1a"},
      "encoding": {
        "x": {"field": "x", "type": "quantitative", "scale": {"domain": [1664, 2180], "nice": false, "zero": false}, "axis": null},
        "y": {"field": "y", "type": "quantitative", "scale": {"domain": [0, 1108], "nice": false, "zero": false}, "axis": null},
        "text": {"field": "s"}
      }
    },
    {
      "data": {"name": "lab"},
      "transform": [{"filter": "datum.k === 'volt'"}],
      "mark": {"type": "text", "align": "left", "baseline": "middle", "fontSize": 25, "color": "#1a1a1a"},
      "encoding": {
        "x": {"field": "x", "type": "quantitative", "scale": {"domain": [1664, 2180], "nice": false, "zero": false}, "axis": null},
        "y": {"field": "y", "type": "quantitative", "scale": {"domain": [0, 1108], "nice": false, "zero": false}, "axis": null},
        "text": {"field": "s"}
      }
    },
    {
      "data": {"name": "lab"},
      "transform": [{"filter": "datum.k === 'big'"}],
      "mark": {"type": "text", "align": "left", "baseline": "middle", "fontSize": 31, "color": "#1a1a1a"},
      "encoding": {
        "x": {"field": "x", "type": "quantitative", "scale": {"domain": [1664, 2180], "nice": false, "zero": false}, "axis": null},
        "y": {"field": "y", "type": "quantitative", "scale": {"domain": [0, 1108], "nice": false, "zero": false}, "axis": null},
        "text": {"field": "s"}
      }
    },
    {
      "data": {"name": "lab"},
      "transform": [{"filter": "datum.k === 'mid'"}],
      "mark": {"type": "text", "align": "left", "baseline": "middle", "fontSize": 29, "color": "#1a1a1a"},
      "encoding": {
        "x": {"field": "x", "type": "quantitative", "scale": {"domain": [1664, 2180], "nice": false, "zero": false}, "axis": null},
        "y": {"field": "y", "type": "quantitative", "scale": {"domain": [0, 1108], "nice": false, "zero": false}, "axis": null},
        "text": {"field": "s"}
      }
    },
    {
      "data": {"name": "lab"},
      "transform": [{"filter": "datum.k === 'sub'"}],
      "mark": {"type": "text", "align": "left", "baseline": "middle", "fontSize": 17, "color": "#1a1a1a"},
      "encoding": {
        "x": {"field": "x", "type": "quantitative", "scale": {"domain": [1664, 2180], "nice": false, "zero": false}, "axis": null},
        "y": {"field": "y", "type": "quantitative", "scale": {"domain": [0, 1108], "nice": false, "zero": false}, "axis": null},
        "text": {"field": "s"}
      }
    }
  ]
}
